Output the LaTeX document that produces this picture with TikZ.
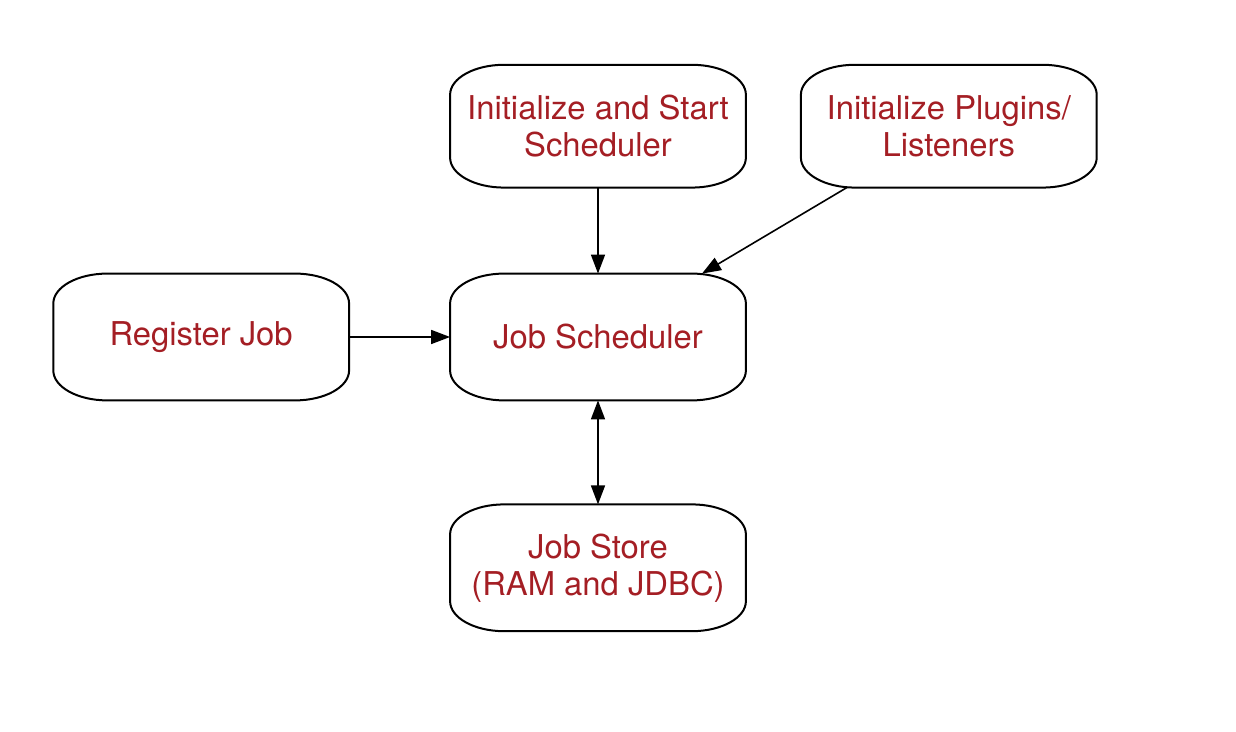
\documentclass[tikz,border=0pt]{standalone}
\usepackage{fontspec}
\setmainfont{TeX Gyre Heros}
\usetikzlibrary{arrows.meta,positioning}
\definecolor{jobred}{RGB}{164,30,36}

\begin{document}
\begin{tikzpicture}[
  >={Triangle[length=9.5pt,width=7pt]},
  box/.style={minimum width=147.5pt, minimum height=63pt, align=center, text=jobred, font=\fontsize{16.4}{18.5}\selectfont, inner sep=0pt},
  arrow/.style={->, line width=0.8pt},
  outline/.style={line width=1pt}
]
\useasboundingbox (-299pt,168.5pt) rectangle (319pt,-197.5pt);

% ----- MAIN BLOCKS -----
\node[box] (sched) {Job Scheduler};
\node[box, minimum height=61pt, above=43pt of sched] (init) {Initialize and Start\\Scheduler};
\node[box, minimum height=61pt, right=27.5pt of init] (plugins) {Initialize Plugins/\\Listeners};
\node[box, left=50.5pt of sched] (register) {Register Job};
\node[box, below=52pt of sched] (store) {Job Store\\(RAM and JDBC)};

% ----- ROUNDED OUTLINES -----
\foreach \n in {sched,init,plugins,register,store}
  \draw[outline] ([xshift=27pt]\n.north west) -- ([xshift=-27pt]\n.north east)
    arc[start angle=90, end angle=0, x radius=27pt, y radius=15pt]
    -- ([yshift=15pt]\n.south east)
    arc[start angle=0, end angle=-90, x radius=27pt, y radius=15pt]
    -- ([xshift=27pt]\n.south west)
    arc[start angle=270, end angle=180, x radius=27pt, y radius=15pt]
    -- ([yshift=-15pt]\n.north west)
    arc[start angle=180, end angle=90, x radius=27pt, y radius=15pt] -- cycle;

% ----- CONNECTIONS -----
\draw[arrow] (init) -- (sched);
\draw[arrow] ([xshift=-51pt]plugins.south) -- ([xshift=52pt]sched.north);
\draw[arrow] (register) -- (sched);
\draw[<->, line width=0.8pt] (sched) -- (store);

\end{tikzpicture}
\end{document}
